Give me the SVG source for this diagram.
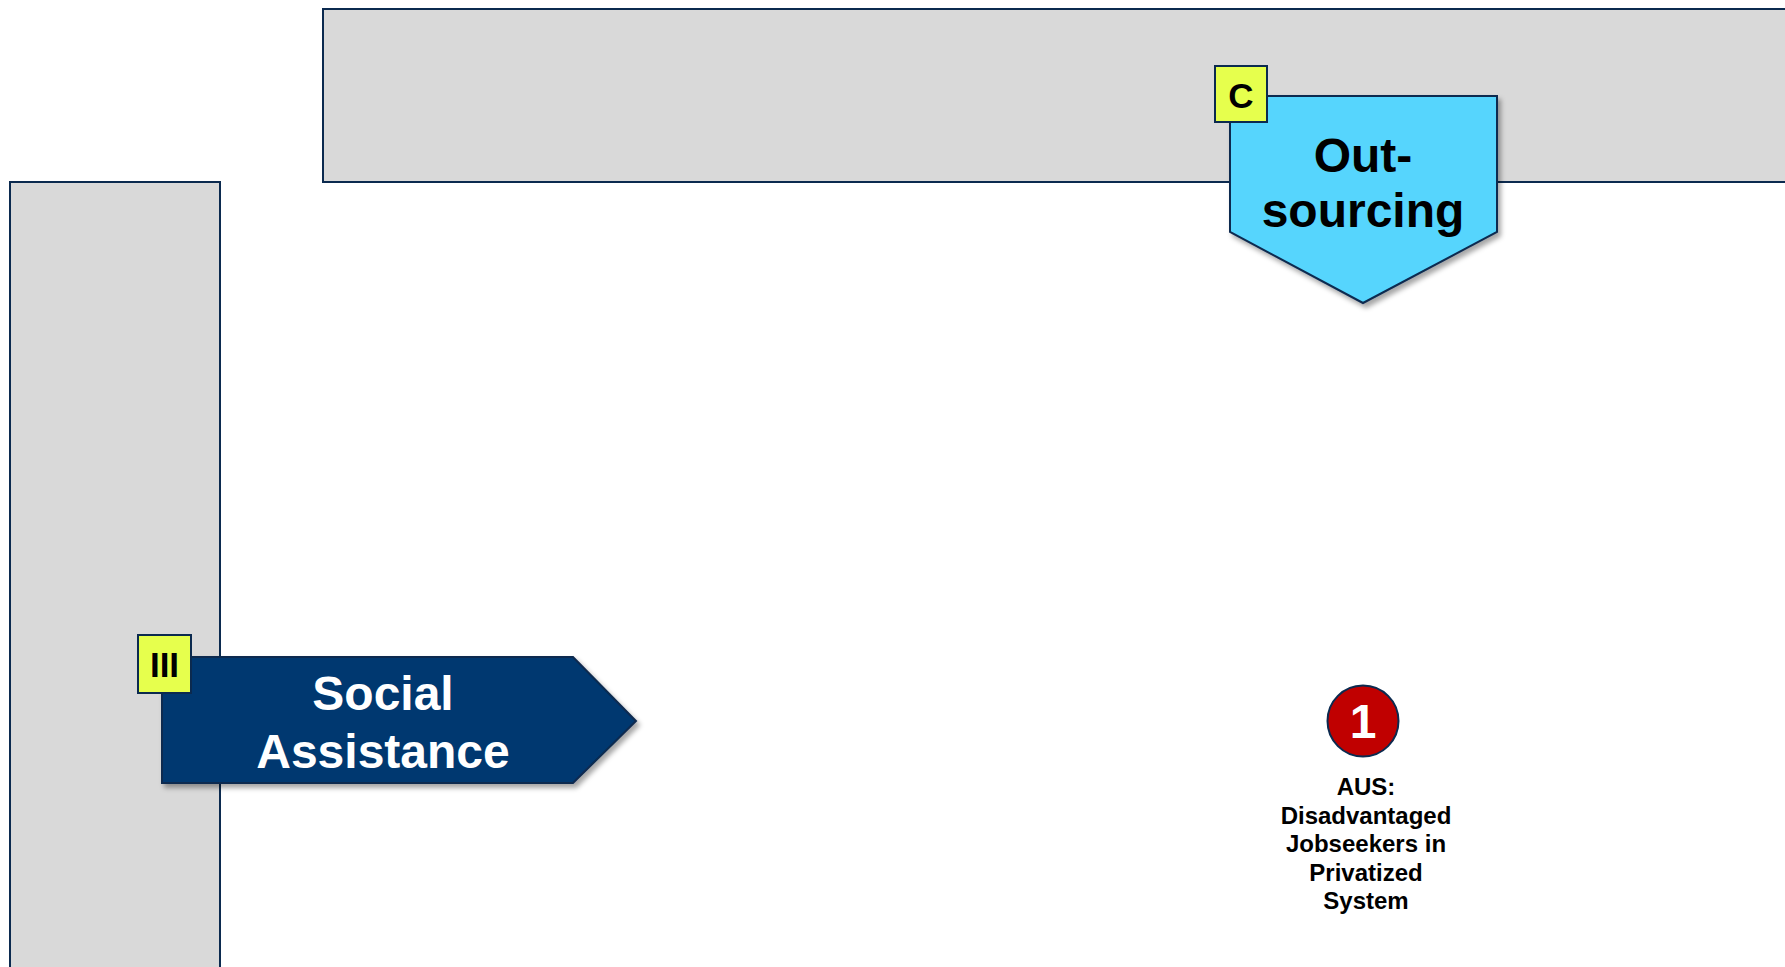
<svg xmlns="http://www.w3.org/2000/svg" width="1785" height="967" viewBox="0 0 1785 967">
<style>
  .band { fill: #d9d9d9; stroke: #0b2a4f; stroke-width: 2; }
  .tag { fill: #e6ff4d; stroke: #0b2a4f; stroke-width: 2; }
  .tagtxt { font-family: "Liberation Sans", Arial, sans-serif; font-weight: bold; font-size: 35px; fill: #000; text-anchor: middle; }
  .big { font-family: "Liberation Sans", Arial, sans-serif; font-weight: bold; font-size: 48px; text-anchor: middle; }
  .lbl { font-family: "Liberation Sans", Arial, sans-serif; font-weight: bold; font-size: 24px; fill: #000; text-anchor: middle; }
</style>
<defs>
  <filter id="shadow" x="-10%" y="-10%" width="130%" height="130%">
    <feDropShadow dx="3" dy="4" stdDeviation="2.5" flood-color="#000" flood-opacity="0.35"/>
  </filter>
</defs>
<rect width="1785" height="967" fill="#ffffff"/>
<g id="band-top">
  <rect class="band" x="323" y="9" width="1480" height="173"/>
</g>
<g id="band-left">
  <rect class="band" x="10" y="182" width="210" height="800"/>
</g>
<g id="node-social">
  <polygon points="162,657 573,657 636,721 573,783 162,783" fill="#003770" stroke="#0b2a4f" stroke-width="2" filter="url(#shadow)"/>
  <text class="big" x="383" y="710" fill="#ffffff">Social</text>
  <text class="big" x="383" y="768" fill="#ffffff">Assistance</text>
  <rect class="tag" x="138" y="635" width="53" height="58"/>
  <text class="tagtxt" x="164.5" y="677">III</text>
</g>
<g id="node-outsourcing">
  <polygon points="1230,96 1497,96 1497,232 1363,303 1230,232" fill="#56d5fd" stroke="#0b2a4f" stroke-width="2" filter="url(#shadow)"/>
  <text class="big" x="1363" y="172" fill="#000000">Out-</text>
  <text class="big" x="1363" y="227" fill="#000000">sourcing</text>
  <rect class="tag" x="1215" y="66" width="52" height="56"/>
  <text class="tagtxt" x="1241" y="108">C</text>
</g>
<g id="node-1">
  <circle cx="1363" cy="721" r="35.5" fill="#c00000" stroke="#0b2a4f" stroke-width="2"/>
  <text class="big" x="1363" y="738" fill="#ffffff">1</text>
  <text class="lbl" x="1366" y="795">AUS:</text>
  <text class="lbl" x="1366" y="824">Disadvantaged</text>
  <text class="lbl" x="1366" y="852">Jobseekers in</text>
  <text class="lbl" x="1366" y="881">Privatized</text>
  <text class="lbl" x="1366" y="909">System</text>
</g>
<g id="connectors"></g>
</svg>
